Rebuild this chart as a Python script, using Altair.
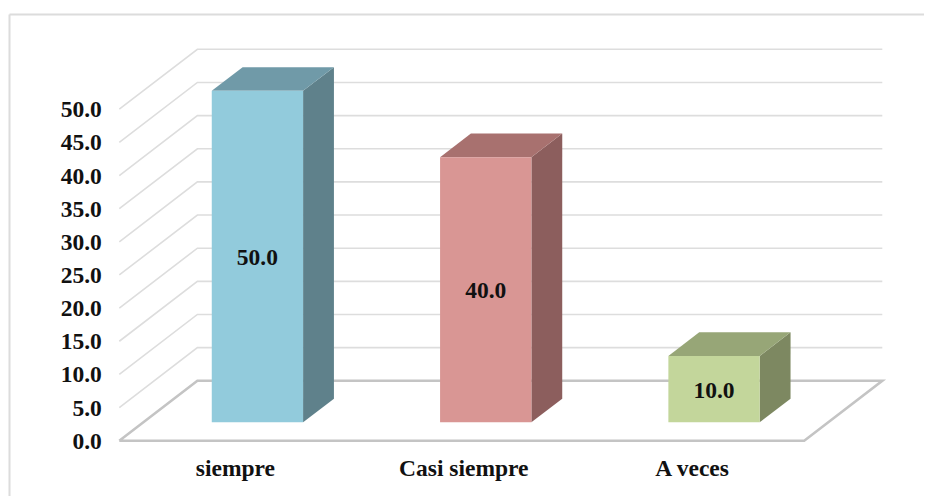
import json
import altair as alt
import pandas as pd

categories = ["siempre", "Casi siempre", "A veces"]
values = [50.0, 40.0, 10.0]
ticks = [0, 5, 10, 15, 20, 25, 30, 35, 40, 45, 50]
front_colors = ["#92CBDC", "#D99694", "#C3D69B"]
top_colors = ["#709AA8", "#A8716F", "#97A677"]
side_colors = ["#5F818B", "#8C5E5D", "#7D8861"]

# depth of the 3D box, in data units of each scale
DX, DY = 0.342, 9.04
BAR_HALF = 0.2
BAR_D0, BAR_DD = 0.307, 0.395
FONT = "Liberation Serif"
FS = 23.5

x_scale = alt.Scale(domain=[-0.5, 2.5 + DX], nice=False, zero=False)
y_scale = alt.Scale(domain=[0, 50 + DY], nice=False, zero=False)

x_axis = alt.Axis(
    values=[0, 1, 2], title=None, grid=False, ticks=False, domain=False,
    labelExpr=json.dumps(categories) + "[datum.value]",
    labelFont=FONT, labelFontWeight="bold", labelFontSize=FS, labelColor="#111111",
    labelPadding=16, labelOffset=1.5, labelFlush=False, labelOverlap=False)
y_axis = alt.Axis(
    values=ticks, title=None, grid=False, ticks=False, domain=False, format=".1f",
    labelFont=FONT, labelFontWeight="bold", labelFontSize=FS, labelColor="#111111",
    labelPadding=18, labelOffset=0.5, labelFlush=False, labelOverlap=False)


def X(f, **kw):
    return alt.X(f, type="quantitative", scale=x_scale, axis=x_axis, **kw)


def Y(f, **kw):
    return alt.Y(f, type="quantitative", scale=y_scale, axis=y_axis, **kw)


grid_rows, floor_rows, front, sides, tops, labels = [], [], [], [], [], []
for v in ticks[1:]:
    grid_rows += [
        {"v": v, "i": 0, "x": -0.5, "y": v},
        {"v": v, "i": 1, "x": -0.5 + DX, "y": v + DY},
        {"v": v, "i": 2, "x": 2.5 + DX, "y": v + DY},
    ]
for i, (fx, fy) in enumerate([(-0.5, 0), (-0.5 + DX, DY), (2.5 + DX, DY), (2.5, 0), (-0.5, 0)]):
    floor_rows.append({"i": i, "x": fx, "y": fy})

for k, (cat, val) in enumerate(zip(categories, values)):
    cx = k + BAR_D0 * DX
    base = BAR_D0 * DY
    xl, xr = cx - BAR_HALF, cx + BAR_HALF
    ox, oy = BAR_DD * DX, BAR_DD * DY
    front.append({"x": xl, "x2": xr, "y": base, "y2": base + val, "c": front_colors[k]})
    sides += [
        {"k": k, "x": xr, "y": base, "y2": base + val, "c": side_colors[k]},
        {"k": k, "x": xr + ox, "y": base + oy, "y2": base + val + oy, "c": side_colors[k]},
    ]
    tops += [
        {"k": k, "y": base + val, "x": xl, "x2": xr, "c": top_colors[k]},
        {"k": k, "y": base + val + oy, "x": xl + ox, "x2": xr + ox, "c": top_colors[k]},
    ]
    labels.append({"x": cx, "y": base + val / 2, "t": f"{val:.1f}"})

one = pd.DataFrame({"a": [0]})
frame_color = "#DCDCDC"
frame_top = alt.Chart(one).mark_rule(color=frame_color, strokeWidth=2).encode(
    x=alt.value(-109.8), x2=alt.value(812), y=alt.value(-34.8))
frame_left = alt.Chart(one).mark_rule(color=frame_color, strokeWidth=2).encode(
    x=alt.value(-109.8), y=alt.value(-34.8), y2=alt.value(450))

grid = alt.Chart(pd.DataFrame(grid_rows)).mark_line(color="#DDDDDD", strokeWidth=1.6).encode(
    x=X("x"), y=Y("y"), detail="v:N", order="i:Q")
floor = alt.Chart(pd.DataFrame(floor_rows)).mark_line(color="#C4C4C4", strokeWidth=2.6).encode(
    x=X("x"), y=Y("y"), order="i:Q")
side = alt.Chart(pd.DataFrame(sides)).mark_area(opacity=1).encode(
    x=X("x"), y=Y("y"), y2="y2", detail="k:N", color=alt.Color("c:N", scale=None))
top = alt.Chart(pd.DataFrame(tops)).mark_area(orient="horizontal", opacity=1).encode(
    y=Y("y"), x=X("x"), x2="x2", detail="k:N", color=alt.Color("c:N", scale=None))
face = alt.Chart(pd.DataFrame(front)).mark_rect().encode(
    x=X("x"), x2="x2", y=Y("y"), y2="y2", color=alt.Color("c:N", scale=None))
text = alt.Chart(pd.DataFrame(labels)).mark_text(
    font=FONT, fontWeight="bold", fontSize=FS, color="#111111", dy=1.5).encode(
    x=X("x"), y=Y("y"), text="t:N")

chart = alt.layer(frame_top, frame_left, grid, floor, side, top, face, text).properties(
    width=763, height=391.4,
    padding={"left": 111.3, "top": 41.3, "right": 41.7, "bottom": 55.3},
    autosize=alt.AutoSizeParams(type="none"),
    background="white",
).configure_view(stroke=None)

chart.save("out.html", embed_options={"renderer": "svg", "actions": False})
